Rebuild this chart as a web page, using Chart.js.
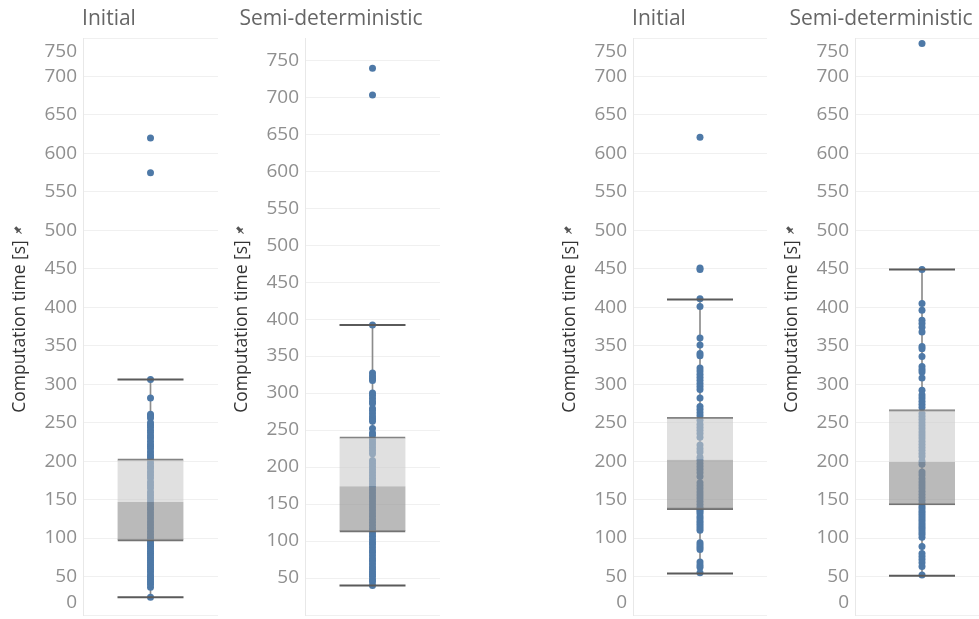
<!DOCTYPE html>
<html>
<head>
<meta charset="utf-8">
<script src="https://cdn.jsdelivr.net/npm/chart.js@4.4.0/dist/chart.umd.min.js"></script>
<style>
  html, body { margin: 0; padding: 0; background: #fff; overflow: hidden; }
  body { width: 979px; height: 619px; position: relative; }
  canvas { position: absolute; top: 0; }
</style>
</head>
<body>
<canvas id="c0" width="218" height="619" style="left:0px"></canvas>
<canvas id="c1" width="218" height="619" style="left:222px"></canvas>
<canvas id="c2" width="217" height="619" style="left:550px"></canvas>
<canvas id="c3" width="217" height="619" style="left:772px"></canvas>
<script>
const panelTitles = ['Initial', 'Semi-deterministic', 'Initial', 'Semi-deterministic'];
const axisTitle = 'Computation time [s]';
const yMax = [750, 780, 750, 750];

const ticksFull = [0, 50, 100, 150, 200, 250, 300, 350, 400, 450, 500, 550, 600, 650, 700, 750];
const ticksNoZero = [50, 100, 150, 200, 250, 300, 350, 400, 450, 500, 550, 600, 650, 700, 750];

// box plot stats
const whiskerLow  = [23, 40, 54, 51];
const quartile1   = [96, 112, 137, 143];
const medians     = [147, 174, 202, 199];
const quartile3   = [203, 241, 257, 267];
const whiskerHigh = [306, 392, 410, 449];

const times1 = [620, 575, 306, 282, 261, 259, 256, 250, 247, 244, 240, 237, 233, 230, 226, 222, 219, 216, 212, 208, 205,
  201, 197, 193, 190, 186, 182, 178, 173, 169, 165, 160, 156, 152, 148, 144, 140, 137, 133, 129, 125, 121, 117, 113, 109, 105, 101, 98,
  95, 92, 89, 86, 83, 80, 77, 74, 71, 68, 65, 62, 59, 56, 52, 49, 46, 43, 40, 36, 23];
const times2 = [739, 703, 392, 327, 323, 320, 317, 300, 297, 293, 289, 286, 279, 276, 272, 268, 265, 262, 252, 246, 243,
  238, 234, 230, 226, 222, 218, 209, 205, 201, 197, 193, 189, 185, 181, 177, 173, 169, 165, 161, 157, 153, 149, 145, 141, 137, 133, 129, 125, 121, 117, 114,
  110, 106, 102, 98, 95, 91, 87, 84, 80, 76, 73, 69, 65, 62, 58, 55, 52, 48, 45, 40];
const times3 = [621, 451, 449, 411, 401, 360, 351, 340, 337, 321, 317, 313, 309, 305, 301, 297, 293, 282, 271, 267, 263, 259,
  253, 248, 244, 240, 236, 231, 221, 216, 212, 205, 201, 197, 193, 189, 185, 180, 172, 168, 164, 160, 156, 152, 148, 144, 140, 137,
  135, 132, 128, 125, 122, 119, 116, 113, 110, 94, 91, 88, 85, 69, 65, 62, 55];
const times4 = [743, 449, 405, 396, 383, 379, 374, 368, 349, 346, 336, 323, 319, 316, 308, 292, 286, 282, 278, 274, 270,
  262, 258, 254, 250, 246, 242, 238, 234, 230, 226, 222, 218, 214, 210, 206, 200, 196, 186, 182, 177, 173, 169, 165, 161, 157, 153, 149, 145,
  141, 138, 135, 132, 129, 126, 123, 120, 117, 114, 111, 108, 105, 101, 89, 80, 76, 72, 68, 63, 52];

const allTimes = [times1, times2, times3, times4];
const allTicks = [ticksFull, ticksNoZero, ticksFull, ticksFull];

const blue = '#4e79a7';
const font = '"Open Sans", sans-serif';

// draws tick labels (clamped inside the pane like the original), panel title and axis title
const textPlugin = {
  id: 'panelText',
  afterDraw(chart, args, opts) {
    const {ctx, chartArea} = chart;
    const y = chart.scales.y;
    ctx.save();
    ctx.font = '19px ' + font;
    ctx.fillStyle = '#8f8f8f';
    ctx.textAlign = 'right';
    ctx.textBaseline = 'middle';
    opts.ticks.forEach(v => {
      let py = y.getPixelForValue(v);
      py = Math.min(Math.max(py, chartArea.top + 14), chartArea.bottom - 12);
      ctx.fillText(String(v), chartArea.left - 6, py);
    });

    // header centred over the whole pane (axis + plot)
    ctx.font = '21px ' + font;
    ctx.fillStyle = '#666';
    ctx.textAlign = 'center';
    ctx.textBaseline = 'alphabetic';
    ctx.fillText(opts.title, 109, 25);

    ctx.translate(chartArea.left - 58, (chartArea.top + chartArea.bottom) / 2);
    ctx.rotate(-Math.PI / 2);
    ctx.font = '17.5px ' + font;
    ctx.fillStyle = '#333';
    ctx.textAlign = 'center';
    ctx.fillText(axisTitle, 0, 0);

    // little pin after the title
    const half = ctx.measureText(axisTitle).width / 2;
    ctx.translate(half + 10, -7);
    ctx.rotate(Math.PI / 4);
    ctx.fillStyle = '#555';
    ctx.fillRect(-1.5, -4, 3, 5);
    ctx.fillRect(-3, 0, 6, 1.5);
    ctx.fillRect(-0.5, 1, 1, 4);
    ctx.restore();
  }
};

function makeChart(i) {
  const cat = panelTitles[i];
  const pts = allTimes[i].map(v => ({x: cat, y: v}));
  const caps = [{x: cat, y: whiskerLow[i]}, {x: cat, y: whiskerHigh[i]}];

  new Chart(document.getElementById('c' + i), {
    type: 'bar',
    data: {
      labels: [cat],
      datasets: [
        {
          type: 'scatter',
          data: caps,
          pointStyle: 'line',
          pointRadius: 33,
          borderColor: '#5a5a5a',
          borderWidth: 2,
          order: 0
        },
        {
          data: [[medians[i], quartile3[i]]],
          backgroundColor: 'rgba(202,202,202,0.58)',
          borderColor: 'rgba(110,110,110,0.85)',
          borderWidth: {top: 1.5},
          borderSkipped: false,
          barThickness: 66,
          grouped: false,
          order: 1
        },
        {
          data: [[quartile1[i], medians[i]]],
          backgroundColor: 'rgba(145,145,145,0.63)',
          borderColor: 'rgba(100,100,100,0.9)',
          borderWidth: {bottom: 1.5},
          borderSkipped: false,
          barThickness: 66,
          grouped: false,
          order: 1
        },
        {
          type: 'scatter',
          data: pts,
          pointRadius: 3.5,
          backgroundColor: blue,
          borderWidth: 0,
          order: 2
        },
        {
          data: [[whiskerLow[i], whiskerHigh[i]]],
          backgroundColor: '#8c8c8c',
          barThickness: 1,
          grouped: false,
          order: 3
        }
      ]
    },
    options: {
      responsive: false,
      animation: false,
      events: [],
      layout: {autoPadding: false, padding: {top: 38, bottom: 4, left: 0, right: 0}},
      plugins: {
        legend: {display: false},
        tooltip: {enabled: false},
        panelText: {ticks: allTicks[i], title: panelTitles[i]}
      },
      scales: {
        x: {display: false},
        y: {
          min: 0,
          max: yMax[i],
          ticks: {display: false, stepSize: 50, includeBounds: false},
          grid: {color: '#f0f0f0', drawTicks: false},
          border: {color: '#e8e8e8'},
          afterFit: s => { s.width = 83; }
        }
      }
    },
    plugins: [textPlugin]
  });
}

[0, 1, 2, 3].forEach(makeChart);
</script>
</body>
</html>
